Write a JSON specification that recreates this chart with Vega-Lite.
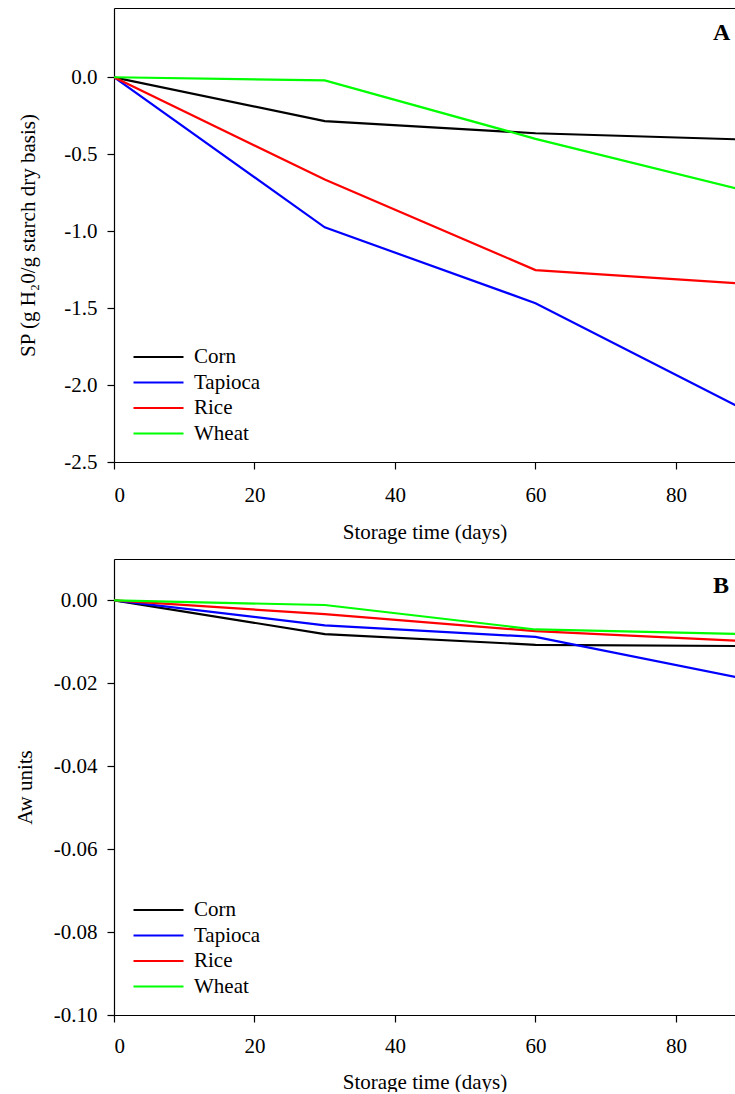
{
  "$schema": "https://vega.github.io/schema/vega-lite/v6.json",
  "padding": {"left": 14, "top": 8, "right": 0, "bottom": 0},
  "background": "white",
  "config": {
    "view": {"stroke": null},
    "font": "Liberation Serif",
    "axis": {
      "labelFont": "Liberation Serif", "titleFont": "Liberation Serif",
      "labelFontSize": 21, "titleFontSize": 21, "titleFontWeight": "normal",
      "labelColor": "#000", "titleColor": "#000", "domainColor": "#000", "tickColor": "#000",
      "tickSize": 7, "grid": false, "domainWidth": 1.2, "tickWidth": 1.2
    },
    "legend": {
      "orient": "bottom-left", "offset": 18, "padding": 0,
      "labelFont": "Liberation Serif", "labelFontSize": 21, "labelColor": "#000",
      "symbolType": "M-1,0H3", "symbolSize": 625, "symbolStrokeWidth": 2.2,
      "rowPadding": 1.5, "labelOffset": 34
    }
  },
  "datasets": {
    "sp": [
      {"starch": "Corn", "days": 0, "value": 0}, {"starch": "Corn", "days": 30, "value": -0.285}, {"starch": "Corn", "days": 60, "value": -0.364}, {"starch": "Corn", "days": 90, "value": -0.405},
      {"starch": "Tapioca", "days": 0, "value": 0}, {"starch": "Tapioca", "days": 30, "value": -0.975}, {"starch": "Tapioca", "days": 60, "value": -1.468}, {"starch": "Tapioca", "days": 90, "value": -2.167},
      {"starch": "Rice", "days": 0, "value": 0}, {"starch": "Rice", "days": 30, "value": -0.665}, {"starch": "Rice", "days": 60, "value": -1.253}, {"starch": "Rice", "days": 90, "value": -1.343},
      {"starch": "Wheat", "days": 0, "value": 0}, {"starch": "Wheat", "days": 30, "value": -0.02}, {"starch": "Wheat", "days": 60, "value": -0.40}, {"starch": "Wheat", "days": 90, "value": -0.738}
    ],
    "aw": [
      {"starch": "Corn", "days": 0, "value": 0}, {"starch": "Corn", "days": 30, "value": -0.0081}, {"starch": "Corn", "days": 60, "value": -0.0107}, {"starch": "Corn", "days": 90, "value": -0.011},
      {"starch": "Tapioca", "days": 0, "value": 0}, {"starch": "Tapioca", "days": 30, "value": -0.0060}, {"starch": "Tapioca", "days": 60, "value": -0.0088}, {"starch": "Tapioca", "days": 90, "value": -0.0190},
      {"starch": "Rice", "days": 0, "value": 0}, {"starch": "Rice", "days": 30, "value": -0.0033}, {"starch": "Rice", "days": 60, "value": -0.0074}, {"starch": "Rice", "days": 90, "value": -0.0098},
      {"starch": "Wheat", "days": 0, "value": 0}, {"starch": "Wheat", "days": 30, "value": -0.0011}, {"starch": "Wheat", "days": 60, "value": -0.0070}, {"starch": "Wheat", "days": 90, "value": -0.0081}
    ],
    "labA": [{"days": 86.5, "value": 0.285, "label": "A"}],
    "labB": [{"days": 86.4, "value": 0.0035, "label": "B"}]
  },
  "spacing": 17,
  "resolve": {"scale": {"color": "independent"}},
  "vconcat": [
    {
      "width": 621, "height": 454,
      "resolve": {"axis": {"x": "independent"}},
      "layer": [
        {
          "data": {"name": "sp"},
          "mark": {"type": "line", "strokeWidth": 2.2, "clip": true},
          "encoding": {
            "x": {"field": "days", "type": "quantitative", "scale": {"domain": [0, 88.4], "nice": false},
                  "axis": {"values": [0, 20, 40, 60, 80], "title": "Storage time (days)", "labelPadding": 15, "titlePadding": 16}},
            "y": {"field": "value", "type": "quantitative", "scale": {"domain": [-2.5, 0.45], "nice": false, "zero": false},
                  "axis": {"values": [-2.5, -2.0, -1.5, -1.0, -0.5, 0.0], "labelExpr": "replace(format(datum.value, '.1f'), '\u2212', '-')", "title": "SP (g H\u20820/g starch dry basis)", "labelPadding": 10, "titlePadding": 25}},
            "color": {"field": "starch", "type": "nominal",
                      "scale": {"domain": ["Corn", "Tapioca", "Rice", "Wheat"], "range": ["#000000", "#0000ff", "#ff0000", "#00ff00"]},
                      "legend": {"title": null}}
          }
        },
        {
          "data": {"name": "labA"},
          "mark": {"type": "text", "font": "Liberation Serif", "fontWeight": "bold", "fontSize": 24, "color": "#000", "align": "center", "baseline": "middle"},
          "encoding": {
            "x": {"field": "days", "type": "quantitative", "axis": {"orient": "top", "labels": false, "ticks": false, "title": null, "domain": true}},
            "y": {"field": "value", "type": "quantitative"},
            "text": {"field": "label"}
          }
        }
      ]
    },
    {
      "width": 621, "height": 456,
      "resolve": {"axis": {"x": "independent"}},
      "layer": [
        {
          "data": {"name": "aw"},
          "mark": {"type": "line", "strokeWidth": 2.2, "clip": true},
          "encoding": {
            "x": {"field": "days", "type": "quantitative", "scale": {"domain": [0, 88.4], "nice": false},
                  "axis": {"values": [0, 20, 40, 60, 80], "title": "Storage time (days)", "labelPadding": 13, "titlePadding": 15}},
            "y": {"field": "value", "type": "quantitative", "scale": {"domain": [-0.1, 0.01], "nice": false, "zero": false},
                  "axis": {"values": [-0.1, -0.08, -0.06, -0.04, -0.02, 0.0], "labelExpr": "replace(format(datum.value, '.2f'), '\u2212', '-')", "title": "Aw units", "labelPadding": 10, "titlePadding": 18}},
            "color": {"field": "starch", "type": "nominal",
                      "scale": {"domain": ["Corn", "Tapioca", "Rice", "Wheat"], "range": ["#000000", "#0000ff", "#ff0000", "#00ff00"]},
                      "legend": {"title": null}}
          }
        },
        {
          "data": {"name": "labB"},
          "mark": {"type": "text", "font": "Liberation Serif", "fontWeight": "bold", "fontSize": 24, "color": "#000", "align": "center", "baseline": "middle"},
          "encoding": {
            "x": {"field": "days", "type": "quantitative", "axis": {"orient": "top", "labels": false, "ticks": false, "title": null, "domain": true}},
            "y": {"field": "value", "type": "quantitative"},
            "text": {"field": "label"}
          }
        }
      ]
    }
  ]
}
